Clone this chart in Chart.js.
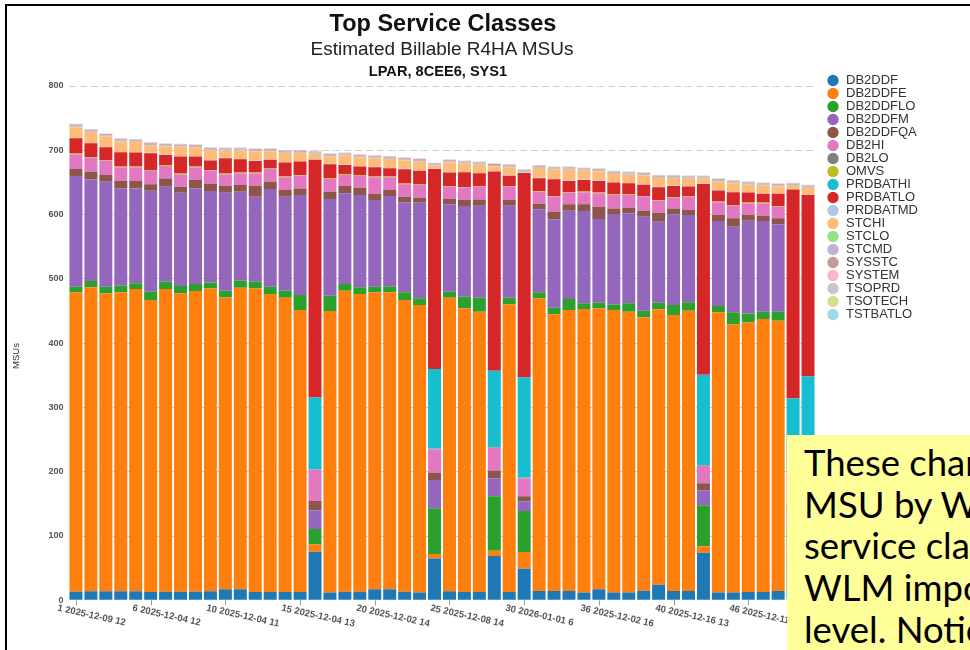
<!DOCTYPE html>
<html>
<head>
<meta charset="utf-8">
<title>Top Service Classes</title>
<script src="https://cdn.jsdelivr.net/npm/chart.js@4.4.1/dist/chart.umd.min.js"></script>
<style>
  html, body { margin: 0; padding: 0; background: #fff; overflow: hidden; }
  #wrap { position: relative; width: 970px; height: 650px; overflow: hidden; }
  #chart { position: absolute; left: 0; top: 0; }
  #frame { position: absolute; left: 5px; top: 4px; width: 1100px; height: 800px; border: 2px solid #000; box-sizing: border-box; pointer-events: none; }
  .ttl { position: absolute; text-align: center; white-space: nowrap; font-family: "Liberation Sans", Arial, sans-serif; color: #111; line-height: 1; }
  #t1 { left: 143px; width: 600px; top: 12px; font-size: 23.5px; font-weight: bold; }
  #t2 { left: 142px; width: 600px; top: 39px; font-size: 19px; color: #222; }
  #t3 { left: 138px; width: 600px; top: 64px; font-size: 14.6px; font-weight: bold; }
  #ytitle { position: absolute; left: 15px; top: 356px; transform: translate(-50%, -50%) rotate(-90deg); font: 9.5px "Liberation Sans", Arial, sans-serif; color: #333; white-space: nowrap; }
  #note { position: absolute; left: 787px; top: 435px; width: 320px; height: 300px; background: #ffff99; box-sizing: border-box; padding: 7px 0 0 17px; font-family: Lato, "Open Sans", sans-serif; font-size: 36.5px; line-height: 41.7px; color: #000; white-space: nowrap; }
</style>
</head>
<body>
<div id="wrap">
  <canvas id="chart" width="970" height="650"></canvas>
  <div class="ttl" id="t1">Top Service Classes</div>
  <div class="ttl" id="t2">Estimated Billable R4HA MSUs</div>
  <div class="ttl" id="t3">LPAR, 8CEE6, SYS1</div>
  <div id="ytitle">MSUs</div>
  <div id="frame"></div>
  <div id="note">These charts show<br>MSU by WLM<br>service class and<br>WLM importance<br>level. Notice</div>
</div>
<script>
// category labels (only every fifth bar carries a visible label)
const labels = [
  '1 2025-12-09 12', '', '', '', '',
  '6 2025-12-04 12', '', '', '', '',
  '10 2025-12-04 11', '', '', '', '',
  '15 2025-12-04 13', '', '', '', '',
  '20 2025-12-02 14', '', '', '', '',
  '25 2025-12-08 14', '', '', '', '',
  '30 2026-01-01 6', '', '', '', '',
  '36 2025-12-02 16', '', '', '', '',
  '40 2025-12-16 13', '', '', '', '',
  '46 2025-12-11 14', '', '', '', ''
];

const yTicks = [0, 100, 200, 300, 400, 500, 600, 700, 800];

const seriesNames = ['DB2DDF', 'DB2DDFE', 'DB2DDFLO', 'DB2DDFM', 'DB2DDFQA', 'DB2HI', 'DB2LO', 'OMVS', 'PRDBATHI',
  'PRDBATLO', 'PRDBATMD', 'STCHI', 'STCLO', 'STCMD', 'SYSSTC', 'SYSTEM', 'TSOPRD', 'TSOTECH', 'TSTBATLO'];

const seriesColors = ['#1f77b4', '#ff7f0e', '#2ca02c', '#9467bd', '#8c564b', '#e377c2', '#7f7f7f', '#bcbd22', '#17becf',
  '#d62728', '#aec7e8', '#ffbb78', '#98df8a', '#c5b0d5', '#c49c94', '#f7b6d2', '#c7c7c7', '#dbdb8d', '#9edae5'];

// MSUs per service class, one value per bar
const db2ddf = [13.4, 14, 14, 14, 14, 13, 13.4, 13.4, 13.4, 14, 17, 17, 13, 13, 13, 13, 75.6, 12, 13.4, 13.4, 17, 17, 13.4, 12, 65,
  14, 13, 13, 69, 13, 49, 14.5, 14.5, 14.5, 12, 17, 12, 12, 15, 24, 14.5, 14.5, 74, 12, 12, 13, 13, 14.5, 74, 74];
const db2ddfe = [465.6, 472.8, 463.4, 465, 470.1, 454, 470.7, 464, 467.6, 471.2, 454.2, 469.2, 472.2, 463.4, 457.6, 438.5, 11.4, 437.9, 468.1, 463, 462, 462, 453.6, 447.3, 7,
  456.6, 441.1, 435.8, 8, 447.3, 26, 455.2, 430.3, 437, 441, 437.1, 439.5, 436.8, 425.1, 428.6, 429.2, 435.9, 10, 435.9, 417.2, 419.3, 424.5, 420.3, 8, 10];
const db2ddflo = [8.7, 9.8, 10.3, 10.3, 8.9, 13, 11.4, 11.4, 10.9, 9.3, 10.3, 10.8, 10.3, 11.3, 10.9, 23.3, 24, 23.8, 10.4, 10.4, 8.7, 8.7, 12, 10.4, 71,
  9.4, 18.1, 21.8, 85, 10.3, 64, 9.3, 10.3, 17.1, 8.9, 8.7, 8.8, 13.1, 10.3, 10.2, 15.6, 13.1, 64, 9.8, 18.7, 14, 11.3, 14, 28, 66];
const db2ddfm = [172.2, 158.1, 163.3, 151.4, 147.7, 157, 147.7, 145.1, 148.8, 142, 152.4, 138.5, 132.2, 152, 146.2, 155.5, 29, 150.4, 141.1, 143.5, 134.8, 141.1, 140, 148.6, 44,
  135.9, 141, 143.1, 28, 143.1, 15, 129.1, 137.4, 137.3, 143.5, 130.2, 140.5, 140, 146.2, 126, 141, 135.7, 23, 132.2, 133.1, 144.1, 141.1, 136, 30, 25];
const db2ddfqa = [10.9, 11.9, 10.4, 11.9, 11.4, 10, 13.1, 9.3, 12.9, 10.9, 10.9, 10.4, 17.1, 11.3, 10.4, 10.4, 15, 11.4, 11.3, 11.4, 9.4, 9.3, 8.7, 7.8, 11,
  8.2, 9.3, 9.9, 12, 8.8, 8, 8.2, 11.9, 10, 10.5, 19.1, 8.8, 8.7, 9.3, 14, 9.3, 7.8, 11, 9.3, 13.1, 8.8, 8.2, 9.3, 10, 11];
const db2hi = [22.8, 21.7, 22.3, 20.8, 21.3, 20.7, 19.1, 19.3, 19.8, 20.7, 17.7, 18.1, 19.2, 19.8, 19.8, 19.7, 47.6, 19.7, 17.1, 18.2, 26, 19.8, 19.3, 19.8, 36.8,
  19.1, 19.2, 19.6, 35, 20.7, 27.7, 19.2, 23.3, 18, 18.6, 20.9, 20.7, 19.7, 21.8, 18.7, 16.5, 20.7, 27, 19.8, 19.6, 18.2, 19.3, 18, 46, 29];
const db2lo = [0.3, 0.3, 0.3, 0.3, 0.3, 0.3, 0.3, 0.3, 0.3, 0.3, 0.3, 0.3, 0.3, 0.3, 0.3, 0.3, 0.5, 0.3, 0.3, 0.3, 0.3, 0.3, 0.3, 0.3, 0.5,
  0.3, 0.3, 0.3, 0.5, 0.3, 0.5, 0.3, 0.3, 0.3, 0.3, 0.3, 0.3, 0.3, 0.3, 0.3, 0.3, 0.3, 0.5, 0.3, 0.3, 0.3, 0.3, 0.3, 0.5, 0.5];
const omvs = [1, 1, 1, 1, 1, 1, 1, 1, 1, 1, 1, 1, 1, 1, 1, 1, 0.5, 1, 1, 1, 1, 1, 1, 1, 0.5,
  1, 1, 1, 0.5, 1, 0.5, 1, 1, 1, 1, 1, 1, 1, 1, 1, 1, 1, 0.5, 1, 1, 1, 1, 1, 0.5, 0.5];
const prdbathi = [0, 0, 0, 0, 0, 0, 0, 0, 0, 0, 0, 0, 0, 0, 0, 0, 112, 0, 0, 0, 0, 0, 0, 0, 124,
  0, 0, 0, 119, 0, 156, 0, 0, 0, 0, 0, 0, 0, 0, 0, 0, 0, 141, 0, 0, 0, 0, 0, 117, 132];
const prdbatlo = [23.9, 21.4, 19.8, 22.3, 21.7, 26.5, 16.1, 26.4, 15.5, 14.6, 23.9, 20.8, 18.2, 13, 21.7, 20.7, 369.8, 21.9, 14.5, 13.4, 14.5, 12.9, 22.3, 20.8, 311,
  20.8, 22.9, 19.8, 310, 15.7, 317.8, 19.8, 26, 17.2, 18.1, 18.1, 18.2, 17.2, 17.2, 19.8, 17.2, 14.5, 296.6, 17, 19.8, 15.6, 13.5, 18.8, 325, 282.3];
const prdbatmd = [0.5, 0.5, 0.5, 0.5, 0.5, 0.5, 0.5, 0.5, 0.5, 0.5, 0.5, 0.5, 0.5, 0.5, 0.5, 0.5, 0.5, 0.5, 0.5, 0.5, 0.5, 0.5, 0.5, 0.5, 0.5,
  0.5, 0.5, 0.5, 0.5, 0.5, 0.5, 0.5, 0.5, 0.5, 0.5, 0.5, 0.5, 0.5, 0.5, 0.5, 0.5, 0.5, 0.5, 0.5, 0.5, 0.5, 0.5, 0.5, 0.5, 0.5];
const stchi = [16.7, 16.8, 16, 16.3, 15.8, 11.6, 12.7, 14.6, 13.8, 15.3, 11.1, 12.7, 14.3, 12.7, 14.2, 12.7, 8.5, 11.6, 13.7, 13.8, 13.6, 13.7, 13.1, 14.2, 4.5,
  15.3, 12.6, 12.6, 7.5, 13.1, 0.5, 15.2, 14.1, 16.7, 13.7, 14.2, 12.7, 12.6, 14.2, 13.6, 11.6, 11.7, 7.5, 13.8, 13.6, 11.5, 12.1, 11.1, 5, 10.5];
const stclo = [0.5, 0.5, 0.5, 0.5, 0.5, 0.5, 0.5, 0.5, 0.5, 0.5, 0.5, 0.5, 0.5, 0.5, 0.5, 0.5, 0.5, 0.5, 0.5, 0.5, 0.5, 0.5, 0.5, 0.5, 0.5,
  0.5, 0.5, 0.5, 0.5, 0.5, 0.5, 0.5, 0.5, 0.5, 0.5, 0.5, 0.5, 0.5, 0.5, 0.5, 0.5, 0.5, 0.5, 0.5, 0.5, 0.5, 0.5, 0.5, 0.5, 0.5];
const stcmd = [1.6, 1.5, 1.5, 1.5, 1.5, 1.5, 1.5, 1.4, 1.5, 1.5, 1.5, 1.5, 1.5, 1.5, 1.5, 1.5, 1.5, 1.5, 1.5, 1.5, 1.5, 1.5, 1.5, 1.5, 1.5,
  1.5, 1.5, 1.5, 1.5, 1.5, 1.5, 1.5, 1.5, 1.5, 1.5, 1.5, 1.5, 1.5, 1.5, 1.5, 1.5, 1.5, 1.5, 1.5, 1.5, 1.5, 1.5, 1.5, 1.5, 1.5];
const sysstc = [1.5, 1.5, 1.5, 1.5, 1.5, 1.5, 1.5, 1.5, 1.5, 1.5, 1.5, 1.5, 1.5, 1.5, 1.5, 1.5, 1.5, 1.5, 1.5, 1.5, 1.5, 1.5, 1.5, 1.5, 1.5,
  1.5, 1.5, 1.5, 1.5, 1.5, 1.5, 1.5, 1.5, 1.5, 1.5, 1.5, 1.5, 1.5, 1.5, 1.5, 1.5, 1.5, 1.5, 1.5, 1.5, 1.5, 1.5, 1.5, 1.5, 1.5];
const system = [0.5, 0.5, 0.5, 0.5, 0.5, 0.5, 0.5, 0.5, 0.5, 0.5, 0.5, 0.5, 0.5, 0.5, 0.5, 0.5, 0.5, 0.5, 0.5, 0.5, 0.5, 0.5, 0.5, 0.5, 0.5,
  0.5, 0.5, 0.5, 0.5, 0.5, 0.5, 0.5, 0.5, 0.5, 0.5, 0.5, 0.5, 0.5, 0.5, 0.5, 0.5, 0.5, 0.5, 0.5, 0.5, 0.5, 0.5, 0.5, 0.5, 0.5];
const tsoprd = [0.6, 0.5, 0.5, 0.5, 0.5, 0.5, 0.5, 0.5, 0.5, 0.5, 0.5, 0.5, 0.5, 0.5, 0.5, 0.5, 0.5, 0.5, 0.5, 0.5, 0.5, 0.5, 0.5, 0.5, 0.5,
  0.5, 0.5, 0.5, 0.5, 0.5, 0.5, 0.5, 0.5, 0.5, 0.5, 0.5, 0.5, 0.5, 0.5, 0.5, 0.5, 0.5, 0.5, 0.5, 0.5, 0.5, 0.5, 0.5, 0.5, 0.5];
const tsotech = [0.3, 0.3, 0.3, 0.3, 0.3, 0.3, 0.3, 0.3, 0.3, 0.3, 0.3, 0.3, 0.3, 0.3, 0.3, 0.3, 0.3, 0.3, 0.3, 0.3, 0.3, 0.3, 0.3, 0.3, 0.3,
  0.3, 0.3, 0.3, 0.3, 0.3, 0.3, 0.3, 0.3, 0.3, 0.3, 0.3, 0.3, 0.3, 0.3, 0.3, 0.3, 0.3, 0.3, 0.3, 0.3, 0.3, 0.3, 0.3, 0.3, 0.3];
const tstbatlo = [0.2, 0.2, 0.2, 0.2, 0.2, 0.2, 0.2, 0.2, 0.2, 0.2, 0.2, 0.2, 0.2, 0.2, 0.2, 0.2, 0.2, 0.2, 0.2, 0.2, 0.2, 0.2, 0.2, 0.2, 0.2,
  0.2, 0.2, 0.2, 0.2, 0.2, 0.2, 0.2, 0.2, 0.2, 0.2, 0.2, 0.2, 0.2, 0.2, 0.2, 0.2, 0.2, 0.2, 0.2, 0.2, 0.2, 0.2, 0.2, 0.2, 0.2];

const seriesData = [db2ddf, db2ddfe, db2ddflo, db2ddfm, db2ddfqa, db2hi, db2lo, omvs, prdbathi,
  prdbatlo, prdbatmd, stchi, stclo, stcmd, sysstc, system, tsoprd, tsotech, tstbatlo];

const FONT = '"Liberation Sans", Arial, sans-serif';
const PLOT_RIGHT = 815.5;

// slanted x labels, drawn at the category scale's own pixel positions
const slantedLabels = {
  id: 'slantedLabels',
  afterDraw(chart) {
    const ctx = chart.ctx;
    const xScale = chart.scales.x;
    const bottom = chart.chartArea.bottom;
    ctx.save();
    ctx.font = 'bold 9.5px ' + FONT;
    ctx.fillStyle = '#555';
    ctx.strokeStyle = '#999';
    ctx.lineWidth = 1;
    labels.forEach((txt, i) => {
      if (!txt) return;
      const x = Math.round(xScale.getPixelForValue(i)) + 0.5;
      ctx.beginPath();
      ctx.moveTo(x, bottom);
      ctx.lineTo(x, bottom + 5);
      ctx.stroke();
      ctx.save();
      ctx.translate(x - 18, bottom + 3);
      ctx.rotate(12.5 * Math.PI / 180);
      ctx.textAlign = 'left';
      ctx.textBaseline = 'top';
      ctx.fillText(txt, 0, 0);
      ctx.restore();
    });
    ctx.restore();
  }
};

// put the legend right of the plot, a little above the top gridline
const legendPlace = {
  id: 'legendPlace',
  afterLayout(chart) {
    const lg = chart.legend;
    const w = lg.width, h = lg.height;
    lg.left = chart.chartArea.right + 11;
    lg.right = lg.left + w;
    lg.top = 74;
    lg.bottom = lg.top + h;
  }
};

const datasets = seriesNames.map((name, i) => ({
  label: name,
  data: seriesData[i],
  backgroundColor: seriesColors[i],
  borderWidth: 0,
  barPercentage: 0.87,
  categoryPercentage: 1.0
}));

const chart = new Chart(document.getElementById('chart'), {
  type: 'bar',
  data: { labels: labels, datasets: datasets },
  options: {
    responsive: false,
    animation: false,
    layout: { padding: { left: 0, top: 86, right: 60, bottom: 49.7 } },
    plugins: {
      tooltip: { enabled: false },
      title: { display: false },
      legend: {
        position: 'right',
        align: 'start',
        labels: {
          usePointStyle: true,
          pointStyle: 'circle',
          boxWidth: 13,
          boxHeight: 8,
          padding: 0,
          color: '#333',
          font: { family: FONT, size: 13 }
        }
      }
    },
    scales: {
      x: {
        stacked: true,
        offset: true,
        grid: { display: false },
        border: { display: false },
        ticks: { display: false },
        afterFit(scale) { scale.height = 0; }
      },
      y: {
        stacked: true,
        min: 0,
        max: 800,
        z: 1,
        afterBuildTicks(scale) { scale.ticks = yTicks.map(v => ({ value: v })); },
        afterFit(scale) { scale.width = 68.5; },
        ticks: {
          padding: 5,
          color: '#555',
          font: { family: FONT, size: 9, weight: 'bold' }
        },
        grid: {
          color: (c) => c.tick && c.tick.value === 0 ? 'rgba(0,0,0,0)' : 'rgba(170,170,170,0.55)',
          lineWidth: 1,
          drawTicks: false
        },
        border: { display: false, dash: [7, 4] }
      }
    }
  },
  plugins: [slantedLabels, legendPlace]
});

// keep the plot's right edge where the reference has it, whatever the legend width
chart.options.layout.padding.right += chart.chartArea.right - PLOT_RIGHT;
chart.update();
</script>
</body>
</html>
